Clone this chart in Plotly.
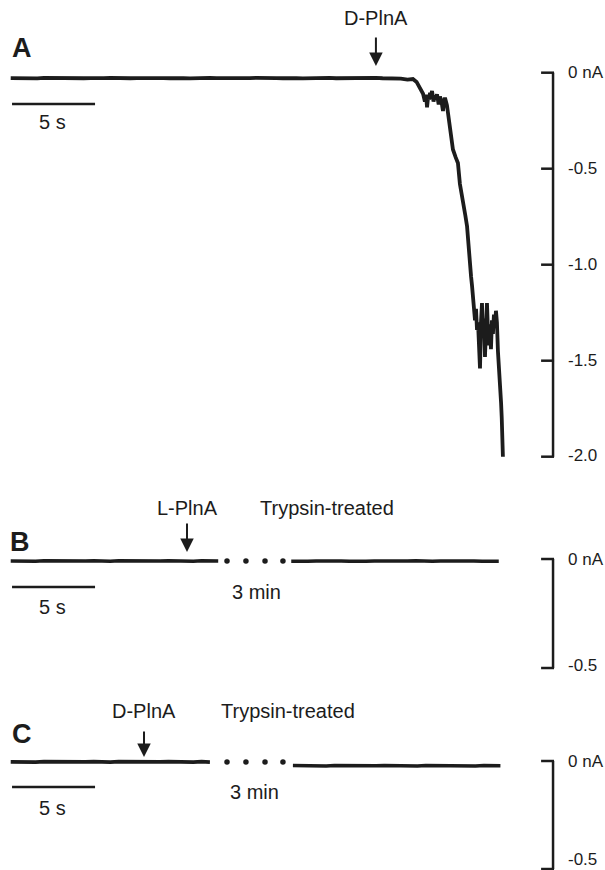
import plotly.graph_objects as go

W, H = 605, 870
FONT = "Liberation Sans, Arial, Helvetica, sans-serif"
INK = "#1c1c1c"

# ---------------- data (time in s, current in nA) ----------------
# Panel A: baseline samples (every 0.4 s from t = 0), then the D-PlnA induced current
A_base_t0, A_base_dt = 0.0, 0.4
A_base_values = [-0.028, -0.029, -0.027, -0.029, -0.030, -0.027, -0.028, -0.027, -0.029, -0.028,
                 -0.027, -0.029, -0.028, -0.030, -0.028, -0.027, -0.029, -0.028, -0.029, -0.028,
                 -0.027, -0.028, -0.029, -0.028, -0.029, -0.027, -0.028, -0.030, -0.028, -0.029,
                 -0.027, -0.028, -0.029, -0.028, -0.027, -0.029, -0.028, -0.027, -0.029, -0.028,
                 -0.028, -0.029, -0.027, -0.028, -0.030, -0.028, -0.029, -0.028, -0.027, -0.029,
                 -0.028, -0.027, -0.029, -0.029, -0.028, -0.027, -0.029, -0.028, -0.029]
A_drop_t = [23.50, 23.90, 24.23, 24.45, 24.60, 24.72, 24.84, 24.95, 25.02, 25.08,
            25.15, 25.21, 25.26, 25.32, 25.38, 25.47, 25.56, 25.62, 25.68, 25.78,
            25.86, 25.95, 26.04, 26.10, 26.16, 26.28, 26.40, 26.52, 26.64, 26.80,
            26.94, 27.06, 27.15, 27.25, 27.38, 27.49, 27.55, 27.62, 27.67, 27.73,
            27.79, 27.85, 27.91, 27.97, 28.03, 28.09, 28.15, 28.21, 28.27, 28.33,
            28.39, 28.45, 28.51, 28.57, 28.63, 28.69, 28.75, 28.81, 28.87, 28.93,
            28.99, 29.05, 29.11, 29.17, 29.23, 29.29, 29.35, 29.41, 29.48, 29.54,
            29.58, 29.62, 29.65]
A_drop_values = [-0.031, -0.036, -0.033, -0.048, -0.072, -0.085, -0.110, -0.150, -0.115, -0.180,
                 -0.120, -0.140, -0.105, -0.125, -0.095, -0.150, -0.118, -0.140, -0.112, -0.165,
                 -0.125, -0.148, -0.200, -0.150, -0.130, -0.170, -0.250, -0.300, -0.400, -0.440,
                 -0.470, -0.580, -0.620, -0.660, -0.740, -0.800, -0.880, -0.950, -0.970, -1.060,
                 -1.110, -1.170, -1.220, -1.290, -1.230, -1.340, -1.300, -1.450, -1.540, -1.300,
                 -1.200, -1.380, -1.280, -1.480, -1.270, -1.200, -1.350, -1.420, -1.310, -1.440,
                 -1.290, -1.360, -1.260, -1.330, -1.240, -1.300, -1.450, -1.520, -1.600, -1.720,
                 -1.800, -1.950, -2.000]

# Panel B: L-PlnA, trypsin-treated (two segments separated by a 3 min gap)
B_seg1_t0, B_seg1_dt = 0.0, 0.5
B_seg1_values = [-0.009, -0.010, -0.008, -0.010, -0.008, -0.009, -0.010, -0.008, -0.010, -0.009,
                 -0.008, -0.010, -0.010, -0.008, -0.009, -0.010, -0.008, -0.010, -0.009, -0.008,
                 -0.010, -0.009, -0.010, -0.008, -0.010, -0.009]
B_seg2_t0, B_seg2_dt = 16.9, 0.5
B_seg2_values = [-0.010, -0.008, -0.010, -0.009, -0.008, -0.010, -0.009, -0.010, -0.008, -0.010,
                 -0.009, -0.010, -0.008, -0.010, -0.009, -0.008, -0.010, -0.010, -0.009, -0.008,
                 -0.010, -0.010, -0.009, -0.010, -0.008, -0.010]

# Panel C: D-PlnA, trypsin-treated
C_seg1_t0, C_seg1_dt = 0.0, 0.5
C_seg1_values = [-0.004, -0.005, -0.003, -0.005, -0.003, -0.004, -0.005, -0.003, -0.005, -0.004,
                 -0.003, -0.005, -0.005, -0.003, -0.004, -0.005, -0.003, -0.005, -0.004, -0.003,
                 -0.005, -0.004, -0.005, -0.003, -0.005]
C_seg2_t0, C_seg2_dt = 17.0, 0.5
C_seg2_values = [-0.021, -0.022, -0.020, -0.022, -0.023, -0.021, -0.022, -0.022, -0.021, -0.023,
                 -0.022, -0.021, -0.022, -0.021, -0.022, -0.023, -0.021, -0.022, -0.022, -0.021,
                 -0.022, -0.022, -0.023, -0.021, -0.022, -0.022]

gap_dot_times = [13.03, 14.17, 15.32, 16.40]

# scale brackets
A_ticks = [0.0, -0.5, -1.0, -1.5, -2.0]
A_tick_labels = ["0 nA", "-0.5", "-1.0", "-1.5", "-2.0"]
BC_ticks = [0.0, -0.5]
BC_tick_labels = ["0 nA", "-0.5"]

# events / labels
A_event = ("D-PlnA", 22.0)
B_event = ("L-PlnA", 10.62)
C_event = ("D-PlnA", 8.03)
time_bar_s = 5.0


def series(t0, dt, vals):
    return [t0 + i * dt for i in range(len(vals))], vals


# ---------------- figure ----------------
fig = go.Figure()

X_RANGE = [-0.645, 35.80]

# panel geometry in pixels (top, bottom) and value ranges
panels = {
    "A": dict(ax="", top=0, bottom=480, rng=[-2.1214, 0.3786]),
    "B": dict(ax="2", top=480, bottom=680, rng=[-0.5550, 0.3624]),
    "C": dict(ax="3", top=680, bottom=870, rng=[-0.5046, 0.3750]),
}

layout_axes = {}
for name, p in panels.items():
    dom = [1 - p["bottom"] / H, 1 - p["top"] / H]
    layout_axes["xaxis" + p["ax"]] = dict(domain=[0, 1], range=X_RANGE, visible=False,
                                           anchor="y" + p["ax"], fixedrange=True)
    layout_axes["yaxis" + p["ax"]] = dict(domain=dom, range=p["rng"], visible=False,
                                           anchor="x" + p["ax"], fixedrange=True)

# Panel A trace
tA, vA = series(A_base_t0, A_base_dt, A_base_values)
fig.add_trace(go.Scatter(x=tA + A_drop_t, y=vA + A_drop_values, mode="lines",
                         line=dict(color=INK, width=3.8), xaxis="x", yaxis="y", showlegend=False))

# Panels B, C traces
for ax, segs in (("2", [(B_seg1_t0, B_seg1_dt, B_seg1_values), (B_seg2_t0, B_seg2_dt, B_seg2_values)]),
                 ("3", [(C_seg1_t0, C_seg1_dt, C_seg1_values), (C_seg2_t0, C_seg2_dt, C_seg2_values)])):
    for t0, dt, vals in segs:
        t, v = series(t0, dt, vals)
        fig.add_trace(go.Scatter(x=t, y=v, mode="lines", line=dict(color=INK, width=3.6),
                                 xaxis="x" + ax, yaxis="y" + ax, showlegend=False))
    level = segs[0][2][-1]
    fig.add_trace(go.Scatter(x=gap_dot_times, y=[level] * len(gap_dot_times), mode="markers",
                             marker=dict(color=INK, size=5.5), xaxis="x" + ax, yaxis="y" + ax,
                             showlegend=False))

shapes = []
annotations = []

BRACKET_X = 32.67
TICK_X0 = 31.95
LABEL_X = 33.45


def add_bracket(ax, ticks, labels, last_shift=0):
    xr, yr = "x" + ax, "y" + ax
    shapes.append(dict(type="line", xref=xr, yref=yr, x0=BRACKET_X, x1=BRACKET_X,
                       y0=ticks[0], y1=ticks[-1], line=dict(color=INK, width=2.5)))
    for i, (tv, lab) in enumerate(zip(ticks, labels)):
        shapes.append(dict(type="line", xref=xr, yref=yr, x0=TICK_X0, x1=BRACKET_X + 0.06,
                           y0=tv, y1=tv, line=dict(color=INK, width=2.5)))
        annotations.append(dict(xref=xr, yref=yr, x=LABEL_X, y=tv, text=lab, showarrow=False,
                                xanchor="left", yanchor="middle",
                                yshift=last_shift if i == len(ticks) - 1 else 0,
                                font=dict(family=FONT, size=17, color=INK)))


add_bracket("", A_ticks, A_tick_labels, 1)
add_bracket("2", BC_ticks, BC_tick_labels, 3)
add_bracket("3", BC_ticks, BC_tick_labels, 10)


def add_time_bar(ax, y_bar, y_label):
    xr, yr = "x" + ax, "y" + ax
    shapes.append(dict(type="line", xref=xr, yref=yr, x0=0.08, x1=0.08 + time_bar_s,
                       y0=y_bar, y1=y_bar, line=dict(color=INK, width=2.5)))
    annotations.append(dict(xref=xr, yref=yr, x=2.5, y=y_label, text="5 s", showarrow=False,
                            xanchor="center", yanchor="middle",
                            font=dict(family=FONT, size=20, color=INK)))


add_time_bar("", -0.163, -0.255)
add_time_bar("2", -0.128, -0.220)
add_time_bar("3", -0.120, -0.218)


def add_letter(ax, letter, x, y):
    annotations.append(dict(xref="x" + ax, yref="y" + ax, x=x, y=y, text="<b>%s</b>" % letter,
                            showarrow=False, xanchor="center", yanchor="middle",
                            font=dict(family=FONT, size=27, color=INK)))


add_letter("", "A", 0.68, 0.129)
add_letter("2", "B", 0.55, 0.078)
add_letter("3", "C", 0.68, 0.125)


def add_event(ax, label, t, y_text, y_tip, arrow_len):
    xr, yr = "x" + ax, "y" + ax
    annotations.append(dict(xref=xr, yref=yr, x=t, y=y_text, text=label, showarrow=False,
                            xanchor="center", yanchor="middle",
                            font=dict(family=FONT, size=20, color=INK)))
    annotations.append(dict(xref=xr, yref=yr, x=t, y=y_tip, text="", showarrow=True,
                            ax=0, ay=-arrow_len, arrowhead=2, arrowsize=1.35, arrowwidth=2,
                            arrowcolor=INK, standoff=0, startstandoff=0))


add_event("", A_event[0], A_event[1], 0.285, 0.035, 30)
add_event("2", B_event[0], B_event[1], 0.234, 0.032, 30)
add_event("3", C_event[0], C_event[1], 0.231, 0.019, 27)

# "Trypsin-treated" and gap labels
annotations.append(dict(xref="x2", yref="y2", x=19.05, y=0.234, text="Trypsin-treated",
                        showarrow=False, xanchor="center", yanchor="middle",
                        font=dict(family=FONT, size=20, color=INK)))
annotations.append(dict(xref="x3", yref="y3", x=16.70, y=0.231, text="Trypsin-treated",
                        showarrow=False, xanchor="center", yanchor="middle",
                        font=dict(family=FONT, size=20, color=INK)))
annotations.append(dict(xref="x2", yref="y2", x=14.78, y=-0.151, text="3 min",
                        showarrow=False, xanchor="center", yanchor="middle",
                        font=dict(family=FONT, size=20, color=INK)))
annotations.append(dict(xref="x3", yref="y3", x=14.66, y=-0.1435, text="3 min",
                        showarrow=False, xanchor="center", yanchor="middle",
                        font=dict(family=FONT, size=20, color=INK)))

fig.update_layout(
    width=W, height=H,
    margin=dict(l=0, r=0, t=0, b=0),
    paper_bgcolor="white", plot_bgcolor="white",
    showlegend=False,
    shapes=shapes,
    annotations=annotations,
    **layout_axes,
)

fig.write_html("out.html", config={"displayModeBar": False})
